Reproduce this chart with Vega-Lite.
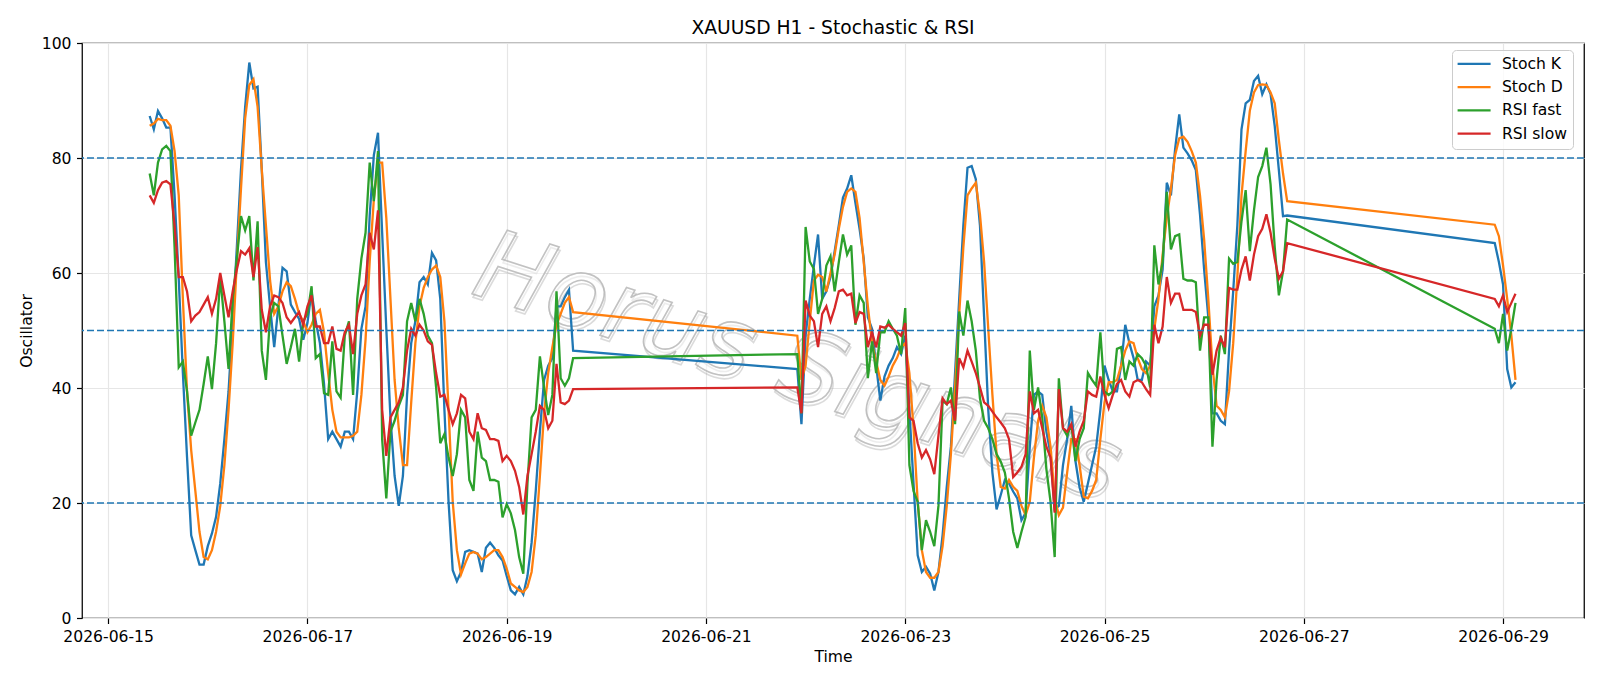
{
  "$schema": "https://vega.github.io/schema/vega-lite/v6.json",
  "autosize": {"type": "none"},
  "width": 1502,
  "height": 575,
  "padding": {"left": 82, "top": 43, "right": 16, "bottom": 68},
  "background": "white",
  "title": {"text": "XAUUSD H1 - Stochastic & RSI", "font": "DejaVu Sans", "fontSize": 18.7, "fontWeight": "normal", "color": "#000000", "anchor": "middle", "frame": "group", "offset": -2},
  "layer": [
    {
      "data": {"values": [{"label": "Horus Signals"}]},
      "mark": {"type": "text", "font": "DejaVu Sans", "fontStyle": "italic", "fontSize": 98, "angle": 18, "align": "center", "baseline": "middle", "dx": 2, "dy": 3, "fill": "#ffffff", "fillOpacity": 0, "stroke": "#9a9a9a", "strokeWidth": 1.6, "opacity": 0.35},
      "encoding": {
        "x": {"datum": {"year": 2026, "month": 6, "date": 21, "hours": 22}, "type": "temporal"},
        "y": {"datum": 43.3, "type": "quantitative"},
        "text": {"field": "label", "type": "nominal"}
      }
    },
    {
      "data": {"values": [{"label": "Horus Signals"}]},
      "mark": {"type": "text", "font": "DejaVu Sans", "fontStyle": "italic", "fontSize": 98, "angle": 18, "align": "center", "baseline": "middle", "fill": "#ffffff", "fillOpacity": 0.6, "stroke": "#b8b8b8", "strokeWidth": 1.6, "opacity": 0.85},
      "encoding": {
        "x": {"datum": {"year": 2026, "month": 6, "date": 21, "hours": 22}, "type": "temporal"},
        "y": {"datum": 43.3, "type": "quantitative"},
        "text": {"field": "label", "type": "nominal"}
      }
    },
    {
      "data": {"values": [
{"t":"2026-06-15T10:00","Stoch K":87.3,"Stoch D":85.6,"RSI fast":77.3,"RSI slow":73.5},
{"t":"2026-06-15T11:00","Stoch K":85.0,"Stoch D":86.0,"RSI fast":73.5,"RSI slow":72.2},
{"t":"2026-06-15T12:00","Stoch K":88.2,"Stoch D":86.8,"RSI fast":79.2,"RSI slow":74.4},
{"t":"2026-06-15T13:00","Stoch K":86.9,"Stoch D":86.6,"RSI fast":81.5,"RSI slow":75.7},
{"t":"2026-06-15T14:00","Stoch K":85.3,"Stoch D":86.6,"RSI fast":82.1,"RSI slow":76.0},
{"t":"2026-06-15T15:00","Stoch K":85.3,"Stoch D":85.6,"RSI fast":81.2,"RSI slow":75.4},
{"t":"2026-06-15T16:00","Stoch K":73.5,"Stoch D":81.2,"RSI fast":64.5,"RSI slow":68.3},
{"t":"2026-06-15T17:00","Stoch K":59.0,"Stoch D":73.5,"RSI fast":43.6,"RSI slow":59.3},
{"t":"2026-06-15T18:00","Stoch K":42.6,"Stoch D":55.5,"RSI fast":44.6,"RSI slow":59.3},
{"t":"2026-06-15T19:00","Stoch K":28.0,"Stoch D":39.4,"RSI fast":39.4,"RSI slow":56.8},
{"t":"2026-06-15T20:00","Stoch K":14.4,"Stoch D":29.2,"RSI fast":31.7,"RSI slow":51.6},
{"t":"2026-06-15T21:00","Stoch K":11.8,"Stoch D":22.1,"RSI fast":34.0,"RSI slow":52.6},
{"t":"2026-06-15T22:00","Stoch K":9.3,"Stoch D":15.0,"RSI fast":36.2,"RSI slow":53.2},
{"t":"2026-06-15T23:00","Stoch K":9.3,"Stoch D":10.6,"RSI fast":40.7,"RSI slow":54.5},
{"t":"2026-06-16T00:00","Stoch K":12.5,"Stoch D":10.2,"RSI fast":45.5,"RSI slow":55.8},
{"t":"2026-06-16T01:00","Stoch K":14.7,"Stoch D":11.8,"RSI fast":39.8,"RSI slow":52.9},
{"t":"2026-06-16T02:00","Stoch K":17.6,"Stoch D":15.0,"RSI fast":47.8,"RSI slow":55.5},
{"t":"2026-06-16T03:00","Stoch K":23.4,"Stoch D":19.5,"RSI fast":59.3,"RSI slow":60.0},
{"t":"2026-06-16T04:00","Stoch K":31.1,"Stoch D":26.6,"RSI fast":51.6,"RSI slow":56.1},
{"t":"2026-06-16T05:00","Stoch K":39.4,"Stoch D":36.2,"RSI fast":43.3,"RSI slow":52.3},
{"t":"2026-06-16T06:00","Stoch K":51.6,"Stoch D":47.8,"RSI fast":55.5,"RSI slow":56.8},
{"t":"2026-06-16T07:00","Stoch K":64.5,"Stoch D":61.9,"RSI fast":62.5,"RSI slow":60.6},
{"t":"2026-06-16T08:00","Stoch K":78.0,"Stoch D":74.7,"RSI fast":69.9,"RSI slow":63.8},
{"t":"2026-06-16T09:00","Stoch K":88.9,"Stoch D":86.9,"RSI fast":67.4,"RSI slow":63.2},
{"t":"2026-06-16T10:00","Stoch K":96.6,"Stoch D":92.7,"RSI fast":69.9,"RSI slow":64.3},
{"t":"2026-06-16T11:00","Stoch K":92.1,"Stoch D":93.7,"RSI fast":58.7,"RSI slow":59.3},
{"t":"2026-06-16T12:00","Stoch K":92.4,"Stoch D":88.9,"RSI fast":69.0,"RSI slow":64.5},
{"t":"2026-06-16T13:00","Stoch K":78.0,"Stoch D":78.0,"RSI fast":46.5,"RSI slow":53.6},
{"t":"2026-06-16T14:00","Stoch K":61.9,"Stoch D":68.3,"RSI fast":41.4,"RSI slow":49.7},
{"t":"2026-06-16T15:00","Stoch K":54.2,"Stoch D":58.7,"RSI fast":52.3,"RSI slow":54.2},
{"t":"2026-06-16T16:00","Stoch K":47.1,"Stoch D":52.9,"RSI fast":54.8,"RSI slow":56.1},
{"t":"2026-06-16T17:00","Stoch K":54.2,"Stoch D":54.2,"RSI fast":54.2,"RSI slow":55.8},
{"t":"2026-06-16T18:00","Stoch K":60.9,"Stoch D":56.8,"RSI fast":49.1,"RSI slow":54.8},
{"t":"2026-06-16T19:00","Stoch K":60.3,"Stoch D":58.4,"RSI fast":44.2,"RSI slow":52.3},
{"t":"2026-06-16T20:00","Stoch K":54.5,"Stoch D":57.7,"RSI fast":47.1,"RSI slow":51.3},
{"t":"2026-06-16T21:00","Stoch K":53.2,"Stoch D":55.5,"RSI fast":50.3,"RSI slow":52.3},
{"t":"2026-06-16T22:00","Stoch K":52.0,"Stoch D":52.9,"RSI fast":44.6,"RSI slow":53.2},
{"t":"2026-06-16T23:00","Stoch K":48.4,"Stoch D":51.6,"RSI fast":51.6,"RSI slow":51.0},
{"t":"2026-06-17T00:00","Stoch K":51.3,"Stoch D":49.7,"RSI fast":52.9,"RSI slow":54.2},
{"t":"2026-06-17T01:00","Stoch K":56.8,"Stoch D":51.0,"RSI fast":57.7,"RSI slow":56.1},
{"t":"2026-06-17T02:00","Stoch K":51.6,"Stoch D":52.9,"RSI fast":45.2,"RSI slow":50.7},
{"t":"2026-06-17T03:00","Stoch K":47.8,"Stoch D":53.6,"RSI fast":45.9,"RSI slow":50.7},
{"t":"2026-06-17T04:00","Stoch K":40.7,"Stoch D":49.7,"RSI fast":39.1,"RSI slow":47.8},
{"t":"2026-06-17T05:00","Stoch K":31.1,"Stoch D":42.6,"RSI fast":38.8,"RSI slow":47.8},
{"t":"2026-06-17T06:00","Stoch K":32.4,"Stoch D":36.2,"RSI fast":48.1,"RSI slow":50.7},
{"t":"2026-06-17T07:00","Stoch K":31.1,"Stoch D":32.4,"RSI fast":39.4,"RSI slow":46.8},
{"t":"2026-06-17T08:00","Stoch K":29.8,"Stoch D":31.4,"RSI fast":38.3,"RSI slow":46.5},
{"t":"2026-06-17T09:00","Stoch K":32.4,"Stoch D":31.4,"RSI fast":49.1,"RSI slow":49.7},
{"t":"2026-06-17T10:00","Stoch K":32.4,"Stoch D":31.4,"RSI fast":51.6,"RSI slow":51.0},
{"t":"2026-06-17T11:00","Stoch K":31.1,"Stoch D":31.7,"RSI fast":38.8,"RSI slow":45.9},
{"t":"2026-06-17T12:00","Stoch K":39.4,"Stoch D":32.4,"RSI fast":55.5,"RSI slow":52.9},
{"t":"2026-06-17T13:00","Stoch K":50.3,"Stoch D":38.8,"RSI fast":62.5,"RSI slow":56.1},
{"t":"2026-06-17T14:00","Stoch K":54.2,"Stoch D":48.4,"RSI fast":67.0,"RSI slow":58.0},
{"t":"2026-06-17T15:00","Stoch K":70.0,"Stoch D":62.0,"RSI fast":79.2,"RSI slow":67.0},
{"t":"2026-06-17T16:00","Stoch K":80.5,"Stoch D":72.8,"RSI fast":72.5,"RSI slow":64.1},
{"t":"2026-06-17T17:00","Stoch K":84.4,"Stoch D":79.2,"RSI fast":81.2,"RSI slow":70.9},
{"t":"2026-06-17T18:00","Stoch K":67.0,"Stoch D":79.2,"RSI fast":31.1,"RSI slow":36.2},
{"t":"2026-06-17T19:00","Stoch K":50.3,"Stoch D":69.6,"RSI fast":20.8,"RSI slow":28.2},
{"t":"2026-06-17T20:00","Stoch K":34.9,"Stoch D":55.5,"RSI fast":32.4,"RSI slow":34.9},
{"t":"2026-06-17T21:00","Stoch K":24.7,"Stoch D":41.4,"RSI fast":34.3,"RSI slow":36.2},
{"t":"2026-06-17T22:00","Stoch K":19.5,"Stoch D":33.0,"RSI fast":36.9,"RSI slow":37.5},
{"t":"2026-06-17T23:00","Stoch K":24.7,"Stoch D":26.6,"RSI fast":38.8,"RSI slow":40.1},
{"t":"2026-06-18T00:00","Stoch K":38.8,"Stoch D":26.6,"RSI fast":51.6,"RSI slow":46.5},
{"t":"2026-06-18T01:00","Stoch K":47.8,"Stoch D":37.5,"RSI fast":54.8,"RSI slow":50.3},
{"t":"2026-06-18T02:00","Stoch K":51.6,"Stoch D":47.8,"RSI fast":51.6,"RSI slow":49.1},
{"t":"2026-06-18T03:00","Stoch K":58.4,"Stoch D":54.2,"RSI fast":55.5,"RSI slow":51.0},
{"t":"2026-06-18T04:00","Stoch K":59.3,"Stoch D":57.4,"RSI fast":52.9,"RSI slow":50.0},
{"t":"2026-06-18T05:00","Stoch K":58.0,"Stoch D":59.3,"RSI fast":49.1,"RSI slow":48.1},
{"t":"2026-06-18T06:00","Stoch K":63.5,"Stoch D":60.6,"RSI fast":47.8,"RSI slow":47.5},
{"t":"2026-06-18T07:00","Stoch K":62.2,"Stoch D":61.3,"RSI fast":40.1,"RSI slow":42.6},
{"t":"2026-06-18T08:00","Stoch K":55.5,"Stoch D":59.3,"RSI fast":30.4,"RSI slow":38.5},
{"t":"2026-06-18T09:00","Stoch K":36.2,"Stoch D":51.6,"RSI fast":32.0,"RSI slow":38.8},
{"t":"2026-06-18T10:00","Stoch K":20.2,"Stoch D":36.2,"RSI fast":27.9,"RSI slow":36.2},
{"t":"2026-06-18T11:00","Stoch K":8.3,"Stoch D":20.2,"RSI fast":24.7,"RSI slow":33.7},
{"t":"2026-06-18T12:00","Stoch K":6.4,"Stoch D":11.8,"RSI fast":28.5,"RSI slow":35.6},
{"t":"2026-06-18T13:00","Stoch K":8.0,"Stoch D":7.6,"RSI fast":36.2,"RSI slow":38.8},
{"t":"2026-06-18T14:00","Stoch K":11.5,"Stoch D":9.5,"RSI fast":34.9,"RSI slow":38.2},
{"t":"2026-06-18T15:00","Stoch K":11.8,"Stoch D":11.2,"RSI fast":24.0,"RSI slow":32.4},
{"t":"2026-06-18T16:00","Stoch K":11.5,"Stoch D":11.5,"RSI fast":22.1,"RSI slow":31.1},
{"t":"2026-06-18T17:00","Stoch K":11.2,"Stoch D":11.2,"RSI fast":32.4,"RSI slow":35.6},
{"t":"2026-06-18T18:00","Stoch K":8.0,"Stoch D":10.2,"RSI fast":27.9,"RSI slow":33.0},
{"t":"2026-06-18T19:00","Stoch K":12.2,"Stoch D":10.6,"RSI fast":27.3,"RSI slow":32.7},
{"t":"2026-06-18T20:00","Stoch K":13.1,"Stoch D":11.2,"RSI fast":24.0,"RSI slow":31.1},
{"t":"2026-06-18T21:00","Stoch K":12.2,"Stoch D":11.8,"RSI fast":24.0,"RSI slow":31.1},
{"t":"2026-06-18T22:00","Stoch K":10.9,"Stoch D":11.8,"RSI fast":23.7,"RSI slow":30.8},
{"t":"2026-06-18T23:00","Stoch K":10.0,"Stoch D":10.6,"RSI fast":17.5,"RSI slow":27.3},
{"t":"2026-06-19T00:00","Stoch K":7.3,"Stoch D":8.6,"RSI fast":19.8,"RSI slow":28.2},
{"t":"2026-06-19T01:00","Stoch K":4.8,"Stoch D":6.0,"RSI fast":18.2,"RSI slow":27.3},
{"t":"2026-06-19T02:00","Stoch K":4.1,"Stoch D":5.4,"RSI fast":15.3,"RSI slow":25.6},
{"t":"2026-06-19T03:00","Stoch K":5.4,"Stoch D":4.8,"RSI fast":10.6,"RSI slow":22.8},
{"t":"2026-06-19T04:00","Stoch K":4.1,"Stoch D":4.5,"RSI fast":7.7,"RSI slow":18.0},
{"t":"2026-06-19T05:00","Stoch K":7.3,"Stoch D":5.4,"RSI fast":23.4,"RSI slow":24.7},
{"t":"2026-06-19T06:00","Stoch K":13.1,"Stoch D":8.0,"RSI fast":34.9,"RSI slow":28.5},
{"t":"2026-06-19T07:00","Stoch K":22.1,"Stoch D":14.4,"RSI fast":36.2,"RSI slow":32.4},
{"t":"2026-06-19T08:00","Stoch K":32.4,"Stoch D":24.7,"RSI fast":45.5,"RSI slow":36.9},
{"t":"2026-06-19T09:00","Stoch K":41.4,"Stoch D":35.6,"RSI fast":40.1,"RSI slow":36.2},
{"t":"2026-06-19T10:00","Stoch K":43.9,"Stoch D":42.6,"RSI fast":35.3,"RSI slow":33.0},
{"t":"2026-06-19T11:00","Stoch K":45.2,"Stoch D":47.1,"RSI fast":38.8,"RSI slow":34.3},
{"t":"2026-06-19T12:00","Stoch K":54.2,"Stoch D":51.0,"RSI fast":56.8,"RSI slow":44.2},
{"t":"2026-06-19T13:00","Stoch K":54.2,"Stoch D":52.9,"RSI fast":41.7,"RSI slow":37.5},
{"t":"2026-06-19T14:00","Stoch K":55.8,"Stoch D":54.8,"RSI fast":40.4,"RSI slow":37.2},
{"t":"2026-06-19T15:00","Stoch K":57.1,"Stoch D":55.8,"RSI fast":41.7,"RSI slow":37.8},
{"t":"2026-06-19T16:00","Stoch K":46.5,"Stoch D":53.2,"RSI fast":45.2,"RSI slow":39.8},
{"t":"2026-06-21T22:00","Stoch K":43.3,"Stoch D":49.1,"RSI fast":45.9,"RSI slow":40.1},
{"t":"2026-06-21T23:00","Stoch K":33.7,"Stoch D":41.4,"RSI fast":35.6,"RSI slow":35.6},
{"t":"2026-06-22T00:00","Stoch K":49.1,"Stoch D":43.9,"RSI fast":68.0,"RSI slow":55.2},
{"t":"2026-06-22T01:00","Stoch K":55.5,"Stoch D":51.6,"RSI fast":62.0,"RSI slow":52.6},
{"t":"2026-06-22T02:00","Stoch K":61.3,"Stoch D":58.7,"RSI fast":60.7,"RSI slow":51.6},
{"t":"2026-06-22T03:00","Stoch K":66.7,"Stoch D":59.7,"RSI fast":52.9,"RSI slow":47.1},
{"t":"2026-06-22T04:00","Stoch K":55.5,"Stoch D":59.3,"RSI fast":55.5,"RSI slow":52.9},
{"t":"2026-06-22T05:00","Stoch K":56.8,"Stoch D":56.8,"RSI fast":61.3,"RSI slow":54.2},
{"t":"2026-06-22T06:00","Stoch K":59.3,"Stoch D":60.0,"RSI fast":62.9,"RSI slow":51.6},
{"t":"2026-06-22T07:00","Stoch K":63.8,"Stoch D":63.2,"RSI fast":56.8,"RSI slow":53.9},
{"t":"2026-06-22T08:00","Stoch K":68.3,"Stoch D":67.7,"RSI fast":61.9,"RSI slow":56.8},
{"t":"2026-06-22T09:00","Stoch K":73.1,"Stoch D":71.5,"RSI fast":66.7,"RSI slow":57.1},
{"t":"2026-06-22T10:00","Stoch K":74.7,"Stoch D":74.1,"RSI fast":63.2,"RSI slow":56.1},
{"t":"2026-06-22T11:00","Stoch K":77.0,"Stoch D":74.7,"RSI fast":64.8,"RSI slow":56.4},
{"t":"2026-06-22T12:00","Stoch K":72.2,"Stoch D":74.1,"RSI fast":51.0,"RSI slow":51.3},
{"t":"2026-06-22T13:00","Stoch K":67.7,"Stoch D":69.6,"RSI fast":56.1,"RSI slow":53.2},
{"t":"2026-06-22T14:00","Stoch K":62.5,"Stoch D":61.9,"RSI fast":54.8,"RSI slow":52.9},
{"t":"2026-06-22T15:00","Stoch K":52.3,"Stoch D":54.2,"RSI fast":41.7,"RSI slow":47.1},
{"t":"2026-06-22T16:00","Stoch K":50.3,"Stoch D":47.8,"RSI fast":48.1,"RSI slow":49.7},
{"t":"2026-06-22T17:00","Stoch K":43.9,"Stoch D":44.6,"RSI fast":42.6,"RSI slow":47.1},
{"t":"2026-06-22T18:00","Stoch K":37.8,"Stoch D":41.4,"RSI fast":49.7,"RSI slow":50.7},
{"t":"2026-06-22T19:00","Stoch K":42.0,"Stoch D":40.4,"RSI fast":49.7,"RSI slow":50.5},
{"t":"2026-06-22T20:00","Stoch K":43.9,"Stoch D":42.0,"RSI fast":51.6,"RSI slow":51.0},
{"t":"2026-06-22T21:00","Stoch K":45.2,"Stoch D":43.9,"RSI fast":50.3,"RSI slow":50.3},
{"t":"2026-06-22T22:00","Stoch K":47.1,"Stoch D":45.2,"RSI fast":49.1,"RSI slow":49.7},
{"t":"2026-06-22T23:00","Stoch K":45.9,"Stoch D":47.1,"RSI fast":45.9,"RSI slow":49.1},
{"t":"2026-06-23T00:00","Stoch K":49.1,"Stoch D":47.8,"RSI fast":53.9,"RSI slow":51.3},
{"t":"2026-06-23T01:00","Stoch K":36.2,"Stoch D":42.6,"RSI fast":26.6,"RSI slow":34.9},
{"t":"2026-06-23T02:00","Stoch K":23.4,"Stoch D":33.0,"RSI fast":22.1,"RSI slow":34.3},
{"t":"2026-06-23T03:00","Stoch K":10.9,"Stoch D":20.2,"RSI fast":20.2,"RSI slow":30.4},
{"t":"2026-06-23T04:00","Stoch K":8.0,"Stoch D":11.8,"RSI fast":11.8,"RSI slow":27.9},
{"t":"2026-06-23T05:00","Stoch K":8.9,"Stoch D":8.0,"RSI fast":17.0,"RSI slow":29.2},
{"t":"2026-06-23T06:00","Stoch K":7.7,"Stoch D":7.0,"RSI fast":15.0,"RSI slow":27.6},
{"t":"2026-06-23T07:00","Stoch K":4.8,"Stoch D":7.0,"RSI fast":12.5,"RSI slow":25.0},
{"t":"2026-06-23T08:00","Stoch K":8.0,"Stoch D":8.0,"RSI fast":19.5,"RSI slow":31.7},
{"t":"2026-06-23T09:00","Stoch K":14.4,"Stoch D":12.5,"RSI fast":37.8,"RSI slow":38.2},
{"t":"2026-06-23T10:00","Stoch K":22.8,"Stoch D":19.5,"RSI fast":37.2,"RSI slow":37.2},
{"t":"2026-06-23T11:00","Stoch K":29.8,"Stoch D":28.5,"RSI fast":40.1,"RSI slow":37.8},
{"t":"2026-06-23T12:00","Stoch K":42.6,"Stoch D":40.1,"RSI fast":33.7,"RSI slow":34.3},
{"t":"2026-06-23T13:00","Stoch K":55.5,"Stoch D":52.9,"RSI fast":53.3,"RSI slow":45.2},
{"t":"2026-06-23T14:00","Stoch K":68.3,"Stoch D":64.5,"RSI fast":49.1,"RSI slow":43.6},
{"t":"2026-06-23T15:00","Stoch K":78.3,"Stoch D":73.5,"RSI fast":55.2,"RSI slow":46.5},
{"t":"2026-06-23T16:00","Stoch K":78.6,"Stoch D":74.7,"RSI fast":51.6,"RSI slow":44.6},
{"t":"2026-06-23T17:00","Stoch K":76.3,"Stoch D":75.7,"RSI fast":46.5,"RSI slow":42.6},
{"t":"2026-06-23T18:00","Stoch K":68.3,"Stoch D":70.2,"RSI fast":38.2,"RSI slow":40.1},
{"t":"2026-06-23T19:00","Stoch K":52.3,"Stoch D":61.9,"RSI fast":34.3,"RSI slow":37.5},
{"t":"2026-06-23T20:00","Stoch K":36.2,"Stoch D":50.3,"RSI fast":33.0,"RSI slow":36.9},
{"t":"2026-06-23T21:00","Stoch K":25.3,"Stoch D":38.8,"RSI fast":31.1,"RSI slow":35.9},
{"t":"2026-06-23T22:00","Stoch K":18.9,"Stoch D":28.5,"RSI fast":28.5,"RSI slow":34.9},
{"t":"2026-06-23T23:00","Stoch K":21.4,"Stoch D":22.8,"RSI fast":27.2,"RSI slow":34.0},
{"t":"2026-06-24T00:00","Stoch K":24.0,"Stoch D":22.5,"RSI fast":25.3,"RSI slow":33.0},
{"t":"2026-06-24T01:00","Stoch K":23.4,"Stoch D":24.0,"RSI fast":20.8,"RSI slow":31.1},
{"t":"2026-06-24T02:00","Stoch K":22.0,"Stoch D":22.8,"RSI fast":15.0,"RSI slow":24.5},
{"t":"2026-06-24T03:00","Stoch K":20.8,"Stoch D":22.1,"RSI fast":12.2,"RSI slow":25.3},
{"t":"2026-06-24T04:00","Stoch K":17.0,"Stoch D":19.5,"RSI fast":15.0,"RSI slow":26.3},
{"t":"2026-06-24T05:00","Stoch K":18.3,"Stoch D":17.9,"RSI fast":17.6,"RSI slow":28.5},
{"t":"2026-06-24T06:00","Stoch K":29.8,"Stoch D":20.2,"RSI fast":46.5,"RSI slow":39.4},
{"t":"2026-06-24T07:00","Stoch K":38.8,"Stoch D":27.9,"RSI fast":36.2,"RSI slow":35.6},
{"t":"2026-06-24T08:00","Stoch K":39.4,"Stoch D":34.3,"RSI fast":40.1,"RSI slow":36.2},
{"t":"2026-06-24T09:00","Stoch K":38.8,"Stoch D":36.9,"RSI fast":34.9,"RSI slow":33.0},
{"t":"2026-06-24T10:00","Stoch K":32.4,"Stoch D":34.9,"RSI fast":25.9,"RSI slow":29.8},
{"t":"2026-06-24T11:00","Stoch K":28.5,"Stoch D":29.8,"RSI fast":20.2,"RSI slow":27.9},
{"t":"2026-06-24T12:00","Stoch K":18.9,"Stoch D":20.8,"RSI fast":10.6,"RSI slow":18.3},
{"t":"2026-06-24T13:00","Stoch K":19.5,"Stoch D":17.9,"RSI fast":41.7,"RSI slow":39.8},
{"t":"2026-06-24T14:00","Stoch K":26.6,"Stoch D":19.2,"RSI fast":33.0,"RSI slow":33.0},
{"t":"2026-06-24T15:00","Stoch K":31.1,"Stoch D":25.3,"RSI fast":31.7,"RSI slow":32.4},
{"t":"2026-06-24T16:00","Stoch K":36.9,"Stoch D":31.1,"RSI fast":33.7,"RSI slow":33.7},
{"t":"2026-06-24T17:00","Stoch K":27.3,"Stoch D":31.1,"RSI fast":27.3,"RSI slow":29.8},
{"t":"2026-06-24T18:00","Stoch K":22.7,"Stoch D":26.6,"RSI fast":31.1,"RSI slow":32.4},
{"t":"2026-06-24T19:00","Stoch K":20.2,"Stoch D":21.1,"RSI fast":33.0,"RSI slow":34.3},
{"t":"2026-06-24T20:00","Stoch K":23.4,"Stoch D":20.8,"RSI fast":42.6,"RSI slow":39.4},
{"t":"2026-06-24T21:00","Stoch K":26.6,"Stoch D":22.1,"RSI fast":41.4,"RSI slow":38.8},
{"t":"2026-06-24T22:00","Stoch K":29.8,"Stoch D":24.0,"RSI fast":40.4,"RSI slow":38.5},
{"t":"2026-06-24T23:00","Stoch K":36.2,"Stoch D":31.1,"RSI fast":49.7,"RSI slow":42.0},
{"t":"2026-06-25T00:00","Stoch K":43.9,"Stoch D":37.5,"RSI fast":39.4,"RSI slow":38.8},
{"t":"2026-06-25T01:00","Stoch K":41.4,"Stoch D":41.0,"RSI fast":38.8,"RSI slow":36.5},
{"t":"2026-06-25T02:00","Stoch K":39.4,"Stoch D":41.0,"RSI fast":39.4,"RSI slow":38.8},
{"t":"2026-06-25T03:00","Stoch K":39.4,"Stoch D":41.4,"RSI fast":46.8,"RSI slow":40.7},
{"t":"2026-06-25T04:00","Stoch K":43.9,"Stoch D":43.9,"RSI fast":47.1,"RSI slow":41.4},
{"t":"2026-06-25T05:00","Stoch K":51.0,"Stoch D":46.5,"RSI fast":41.4,"RSI slow":39.4},
{"t":"2026-06-25T06:00","Stoch K":47.8,"Stoch D":48.1,"RSI fast":44.6,"RSI slow":38.5},
{"t":"2026-06-25T07:00","Stoch K":45.2,"Stoch D":47.8,"RSI fast":43.9,"RSI slow":41.0},
{"t":"2026-06-25T08:00","Stoch K":41.4,"Stoch D":45.2,"RSI fast":45.9,"RSI slow":41.4},
{"t":"2026-06-25T09:00","Stoch K":41.4,"Stoch D":43.3,"RSI fast":45.2,"RSI slow":41.0},
{"t":"2026-06-25T10:00","Stoch K":44.6,"Stoch D":42.6,"RSI fast":43.9,"RSI slow":39.8},
{"t":"2026-06-25T11:00","Stoch K":43.9,"Stoch D":43.9,"RSI fast":40.1,"RSI slow":38.8},
{"t":"2026-06-25T12:00","Stoch K":54.2,"Stoch D":50.3,"RSI fast":64.8,"RSI slow":51.0},
{"t":"2026-06-25T13:00","Stoch K":56.1,"Stoch D":55.5,"RSI fast":58.0,"RSI slow":47.8},
{"t":"2026-06-25T14:00","Stoch K":60.6,"Stoch D":63.2,"RSI fast":61.9,"RSI slow":50.7},
{"t":"2026-06-25T15:00","Stoch K":75.7,"Stoch D":69.6,"RSI fast":74.1,"RSI slow":59.3},
{"t":"2026-06-25T16:00","Stoch K":73.5,"Stoch D":74.7,"RSI fast":64.1,"RSI slow":54.8},
{"t":"2026-06-25T17:00","Stoch K":81.5,"Stoch D":80.5,"RSI fast":66.4,"RSI slow":56.4},
{"t":"2026-06-25T18:00","Stoch K":87.6,"Stoch D":83.4,"RSI fast":66.7,"RSI slow":56.4},
{"t":"2026-06-25T19:00","Stoch K":81.8,"Stoch D":83.7,"RSI fast":59.0,"RSI slow":53.6},
{"t":"2026-06-25T20:00","Stoch K":80.8,"Stoch D":82.8,"RSI fast":58.7,"RSI slow":53.6},
{"t":"2026-06-25T21:00","Stoch K":79.6,"Stoch D":81.2,"RSI fast":58.7,"RSI slow":53.6},
{"t":"2026-06-25T22:00","Stoch K":77.9,"Stoch D":79.2,"RSI fast":58.4,"RSI slow":53.2},
{"t":"2026-06-25T23:00","Stoch K":70.2,"Stoch D":73.5,"RSI fast":46.5,"RSI slow":49.1},
{"t":"2026-06-26T00:00","Stoch K":60.6,"Stoch D":65.8,"RSI fast":52.3,"RSI slow":51.0},
{"t":"2026-06-26T01:00","Stoch K":52.3,"Stoch D":55.5,"RSI fast":52.3,"RSI slow":51.0},
{"t":"2026-06-26T02:00","Stoch K":35.6,"Stoch D":43.9,"RSI fast":29.8,"RSI slow":42.3},
{"t":"2026-06-26T03:00","Stoch K":35.6,"Stoch D":36.9,"RSI fast":41.4,"RSI slow":46.5},
{"t":"2026-06-26T04:00","Stoch K":34.3,"Stoch D":36.2,"RSI fast":49.1,"RSI slow":48.7},
{"t":"2026-06-26T05:00","Stoch K":33.7,"Stoch D":34.9,"RSI fast":45.9,"RSI slow":47.1},
{"t":"2026-06-26T06:00","Stoch K":46.5,"Stoch D":39.4,"RSI fast":62.5,"RSI slow":57.4},
{"t":"2026-06-26T07:00","Stoch K":56.8,"Stoch D":47.8,"RSI fast":61.6,"RSI slow":57.1},
{"t":"2026-06-26T08:00","Stoch K":68.3,"Stoch D":59.3,"RSI fast":61.9,"RSI slow":57.1},
{"t":"2026-06-26T09:00","Stoch K":85.0,"Stoch D":73.5,"RSI fast":69.0,"RSI slow":60.6},
{"t":"2026-06-26T10:00","Stoch K":89.5,"Stoch D":81.2,"RSI fast":74.4,"RSI slow":62.9},
{"t":"2026-06-26T11:00","Stoch K":90.1,"Stoch D":88.2,"RSI fast":63.8,"RSI slow":58.7},
{"t":"2026-06-26T12:00","Stoch K":93.4,"Stoch D":91.4,"RSI fast":70.9,"RSI slow":63.2},
{"t":"2026-06-26T13:00","Stoch K":94.3,"Stoch D":92.7,"RSI fast":76.7,"RSI slow":66.4},
{"t":"2026-06-26T14:00","Stoch K":91.1,"Stoch D":92.8,"RSI fast":78.6,"RSI slow":67.7},
{"t":"2026-06-26T15:00","Stoch K":92.8,"Stoch D":92.7,"RSI fast":81.8,"RSI slow":70.2},
{"t":"2026-06-26T16:00","Stoch K":91.1,"Stoch D":91.4,"RSI fast":75.4,"RSI slow":67.0},
{"t":"2026-06-26T17:00","Stoch K":85.6,"Stoch D":89.5,"RSI fast":64.5,"RSI slow":62.5},
{"t":"2026-06-26T18:00","Stoch K":77.9,"Stoch D":83.1,"RSI fast":56.1,"RSI slow":59.0},
{"t":"2026-06-26T19:00","Stoch K":69.9,"Stoch D":77.3,"RSI fast":60.3,"RSI slow":60.3},
{"t":"2026-06-26T20:00","Stoch K":70.0,"Stoch D":72.5,"RSI fast":69.3,"RSI slow":65.2},
{"t":"2026-06-28T22:00","Stoch K":65.2,"Stoch D":68.4,"RSI fast":50.3,"RSI slow":55.5},
{"t":"2026-06-28T23:00","Stoch K":61.9,"Stoch D":66.4,"RSI fast":47.8,"RSI slow":54.2},
{"t":"2026-06-29T00:00","Stoch K":58.0,"Stoch D":61.3,"RSI fast":52.9,"RSI slow":56.1},
{"t":"2026-06-29T01:00","Stoch K":43.3,"Stoch D":55.5,"RSI fast":46.5,"RSI slow":53.2},
{"t":"2026-06-29T02:00","Stoch K":40.1,"Stoch D":49.1,"RSI fast":50.3,"RSI slow":54.8},
{"t":"2026-06-29T03:00","Stoch K":41.0,"Stoch D":41.4,"RSI fast":54.8,"RSI slow":56.4}
      ]},
      "transform": [{"fold": ["Stoch K", "Stoch D", "RSI fast", "RSI slow"], "as": ["series", "value"]}],
      "mark": {"type": "line", "strokeWidth": 2.3, "interpolate": "linear"},
      "encoding": {
        "x": {
          "field": "t", "type": "temporal", "title": "Time",
          "scale": {"domain": [{"year": 2026, "month": 6, "date": 14, "hours": 17, "minutes": 42}, {"year": 2026, "month": 6, "date": 29, "hours": 19, "minutes": 30}], "nice": false},
          "axis": {
            "values": [{"year": 2026, "month": 6, "date": 15}, {"year": 2026, "month": 6, "date": 17}, {"year": 2026, "month": 6, "date": 19}, {"year": 2026, "month": 6, "date": 21}, {"year": 2026, "month": 6, "date": 23}, {"year": 2026, "month": 6, "date": 25}, {"year": 2026, "month": 6, "date": 27}, {"year": 2026, "month": 6, "date": 29}],
            "format": "%Y-%m-%d", "labelOverlap": false, "labelFlush": false, "titlePadding": 5
          }
        },
        "y": {
          "field": "value", "type": "quantitative", "title": "Oscillator",
          "scale": {"domain": [0, 100], "nice": false, "zero": false},
          "axis": {"values": [0, 20, 40, 60, 80, 100], "titlePadding": 7}
        },
        "color": {
          "field": "series", "type": "nominal",
          "scale": {"domain": ["Stoch K", "Stoch D", "RSI fast", "RSI slow"], "range": ["#1f77b4", "#ff7f0e", "#2ca02c", "#d62728"]},
          "legend": {"title": null, "orient": "none", "legendX": 1370, "legendY": 7}
        }
      }
    },
    {
      "data": {"values": [{"level": 20}, {"level": 50}, {"level": 80}]},
      "mark": {"type": "rule", "strokeDash": [7, 3], "strokeWidth": 1.4, "color": "#1f77b4"},
      "encoding": {"y": {"field": "level", "type": "quantitative", "title": "Oscillator"}}
    }
  ],
  "config": {
    "font": "DejaVu Sans",
    "view": {"stroke": "#000000", "strokeWidth": 1.25},
    "axis": {
      "labelFont": "DejaVu Sans", "labelFontSize": 15.6, "labelColor": "#000000",
      "titleFont": "DejaVu Sans", "titleFontSize": 15.6, "titleFontWeight": "normal", "titleColor": "#000000",
      "tickColor": "#000000", "tickSize": 5.5, "tickWidth": 1.2, "labelPadding": 5.5,
      "domain": false, "grid": true, "gridColor": "#e6e6e6", "gridWidth": 1.2
    },
    "legend": {
      "labelFont": "DejaVu Sans", "labelFontSize": 15.6, "labelColor": "#000000",
      "symbolType": "M-3,0H3", "symbolSize": 121, "symbolStrokeWidth": 2.3,
      "symbolOffset": 8.3, "labelOffset": 20,
      "rowPadding": 6.3, "padding": 6,
      "fillColor": "rgba(255,255,255,0.8)", "strokeColor": "#cccccc", "cornerRadius": 4
    }
  }
}
